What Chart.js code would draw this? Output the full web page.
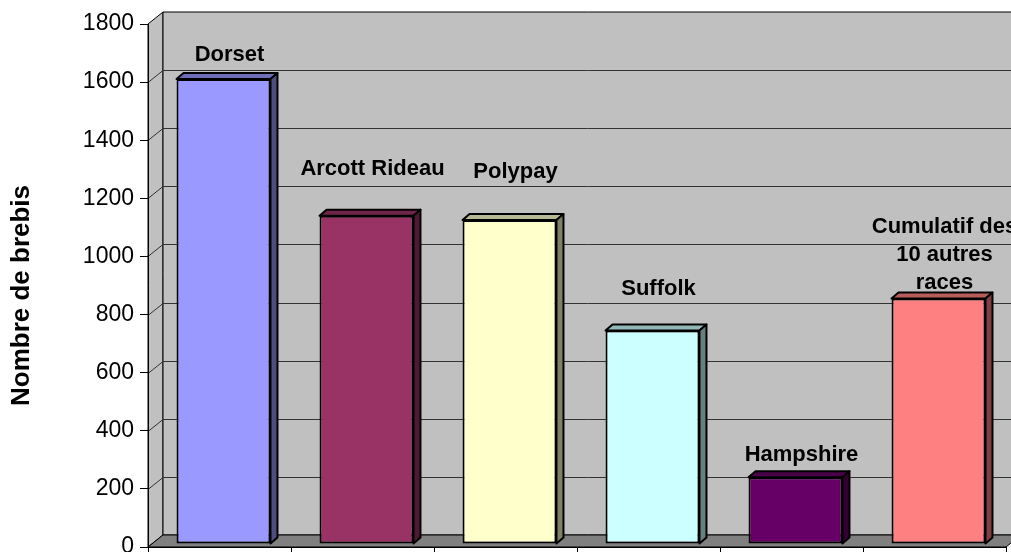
<!DOCTYPE html>
<html>
<head>
<meta charset="utf-8">
<script src="https://cdn.jsdelivr.net/npm/chart.js@4/dist/chart.umd.min.js"></script>
<style>
  html, body { margin: 0; padding: 0; background: #fff; }
  #wrap { width: 1011px; height: 552px; position: relative; }
</style>
</head>
<body>
<div id="wrap"><canvas id="myChart"></canvas></div>
<script>
// data
var races = ['Dorset', 'Arcott Rideau', 'Polypay', 'Suffolk', 'Hampshire', ['Cumulatif des', '10 autres', 'races']];
var brebis = [1600, 1130, 1115, 735, 230, 845];
var yMax = 1800;
var yStep = 200;
var yTitle = 'Nombre de brebis';

var barColors = ['#9999FF', '#993366', '#FFFFCC', '#CCFFFF', '#660066', '#FF8080'];
// how far each label sits above its bar (px), as Excel placed them
var labelLift = [21, 44, 45, 38, 19, 12];

var fontFamily = '"Liberation Sans", Arial, sans-serif';
var wall = { dx: 15, dy: -12 };     // depth of the back wall
var barShift = { dx: 4, dy: -3 };   // bars sit a little behind the front plane
var barDepth = { dx: 7, dy: -6 };

function shade(hex, f) {
    var n = parseInt(hex.slice(1), 16);
    var r = Math.round(((n >> 16) & 255) * f);
    var g = Math.round(((n >> 8) & 255) * f);
    var b = Math.round((n & 255) * f);
    return 'rgb(' + r + ',' + g + ',' + b + ')';
}

function poly(ctx, pts, fill) {
    ctx.beginPath();
    ctx.moveTo(pts[0][0], pts[0][1]);
    for (var i = 1; i < pts.length; i++) ctx.lineTo(pts[i][0], pts[i][1]);
    ctx.closePath();
    if (fill) { ctx.fillStyle = fill; ctx.fill(); }
    ctx.stroke();
}

var scene3d = {
    id: 'scene3d',
    beforeDraw: function (chart) {
        var ctx = chart.ctx;
        var a = chart.chartArea;
        var y = chart.scales.y;
        ctx.save();
        ctx.lineWidth = 1;
        ctx.strokeStyle = '#000';
        // left wall, back wall, floor
        poly(ctx, [[a.left, a.top], [a.left + wall.dx, a.top + wall.dy], [a.left + wall.dx, a.bottom + wall.dy], [a.left, a.bottom]], '#C0C0C0');
        poly(ctx, [[a.left + wall.dx, a.top + wall.dy], [a.right + wall.dx, a.top + wall.dy], [a.right + wall.dx, a.bottom + wall.dy], [a.left + wall.dx, a.bottom + wall.dy]], '#C0C0C0');
        poly(ctx, [[a.left, a.bottom], [a.left + wall.dx, a.bottom + wall.dy], [a.right + wall.dx, a.bottom + wall.dy], [a.right, a.bottom]], '#808080');
        // gridlines folded over the walls
        ctx.strokeStyle = '#333';
        y.ticks.forEach(function (t) {
            if (t.value === 0 || t.value === yMax) return;
            var py = Math.round(y.getPixelForValue(t.value)) + 0.5;
            ctx.beginPath();
            ctx.moveTo(a.left, py);
            ctx.lineTo(a.left + wall.dx, py + wall.dy);
            ctx.lineTo(a.right + wall.dx, py + wall.dy);
            ctx.stroke();
        });
        ctx.restore();
    },
    beforeDatasetsDraw: function (chart) {
        chart.ctx.save();
        chart.ctx.translate(barShift.dx, barShift.dy);
    },
    afterDatasetsDraw: function (chart) {
        var ctx = chart.ctx;
        var meta = chart.getDatasetMeta(0);
        ctx.lineWidth = 2;
        ctx.lineJoin = 'round';
        ctx.strokeStyle = '#000';
        meta.data.forEach(function (bar, i) {
            var p = bar.getProps(['x', 'y', 'base', 'width'], true);
            var l = p.x - p.width / 2, r = p.x + p.width / 2;
            var c = barColors[i];
            poly(ctx, [[l, p.y], [l + barDepth.dx, p.y + barDepth.dy], [r + barDepth.dx, p.y + barDepth.dy], [r, p.y]], shade(c, 0.72));
            poly(ctx, [[r, p.y], [r + barDepth.dx, p.y + barDepth.dy], [r + barDepth.dx, p.base + barDepth.dy], [r, p.base]], shade(c, 0.5));
        });
        ctx.restore();

        // category names above the bars
        ctx.save();
        ctx.fillStyle = '#000';
        ctx.font = 'bold 22px ' + fontFamily;
        ctx.textAlign = 'center';
        ctx.textBaseline = 'alphabetic';
        meta.data.forEach(function (bar, i) {
            var lines = [].concat(races[i]);
            var x = bar.x + 10;
            var yb = bar.y - labelLift[i];
            for (var k = lines.length - 1; k >= 0; k--) {
                ctx.fillText(lines[k], x, yb - (lines.length - 1 - k) * 28);
            }
        });
        ctx.restore();

        // axis title, placed where Excel put it
        var a = chart.chartArea;
        ctx.save();
        ctx.translate(22, (a.top + a.bottom) / 2 + 10);
        ctx.rotate(-Math.PI / 2);
        ctx.fillStyle = '#000';
        ctx.font = 'bold 26px ' + fontFamily;
        ctx.textAlign = 'center';
        ctx.textBaseline = 'middle';
        ctx.fillText(yTitle, 0, 0);
        ctx.restore();
    }
};

var ctx = document.getElementById('myChart').getContext('2d');

var myChart = new Chart(ctx, {
    type: 'bar',
    data: {
        labels: races,
        datasets: [{
            label: yTitle,
            data: brebis,
            backgroundColor: barColors,
            borderColor: '#000',
            borderWidth: 2,
            borderSkipped: false,
            barPercentage: 0.657,
            categoryPercentage: 1
        }]
    },
    options: {
        responsive: true,
        maintainAspectRatio: false,
        animation: false,
        layout: { padding: { top: 24, right: 5, left: 0, bottom: 0 } },
        plugins: {
            legend: { display: false },
            tooltip: { enabled: false }
        },
        scales: {
            x: {
                offset: true,
                ticks: { display: false },
                grid: { offset: true, drawOnChartArea: false, tickLength: 7, color: '#000' },
                border: { color: '#000' },
                afterFit: function (scale) { scale.height = 5; }
            },
            y: {
                min: 0,
                max: yMax,
                ticks: {
                    stepSize: yStep,
                    color: '#000',
                    padding: 6,
                    font: { size: 23, family: fontFamily },
                    callback: function (v) { return String(v); }
                },
                grid: { drawOnChartArea: false, tickLength: 8, color: '#000' },
                border: { color: '#000' },
                afterFit: function (scale) {
                    scale.width = 148;
                    scale.paddingTop = 0;
                    scale.paddingBottom = 0;
                }
            }
        }
    },
    plugins: [scene3d]
});
</script>
</body>
</html>
